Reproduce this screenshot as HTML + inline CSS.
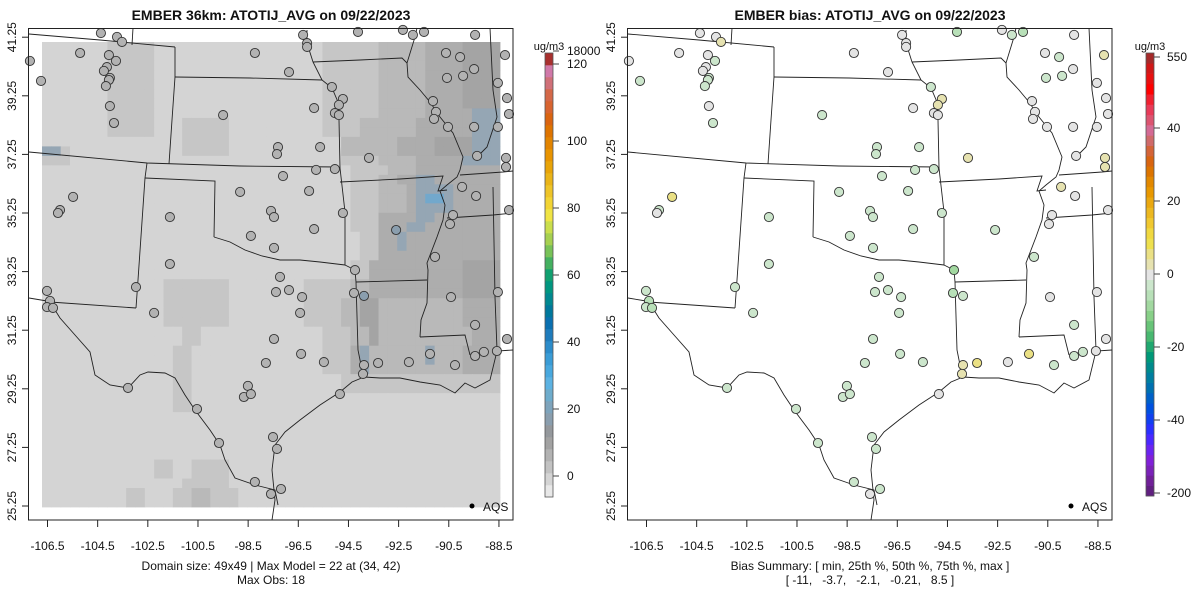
<!DOCTYPE html>
<html><head><meta charset="utf-8"><style>
html,body{margin:0;padding:0;background:#fff}
svg{display:block;font-family:"Liberation Sans",sans-serif}
</style></head><body>
<svg id="c" width="1200" height="600" viewBox="0 0 1200 600" xmlns="http://www.w3.org/2000/svg"></svg>
<script>
// ---------- data ----------
const lonTicks=[-106.5,-104.5,-102.5,-100.5,-98.5,-96.5,-94.5,-92.5,-90.5,-88.5];
const latTicks=[25.25,27.25,29.25,31.25,33.25,35.25,37.25,39.25,41.25];
const obsBarTicks=[0,20,40,60,80,100];
const biasBarTicks=[-40,-20,0,20,40];
const stationLon=[-104.37,-103.73,-103.53,-105.20,-104.05,-103.77,-104.13,-104.25,-104.01,-104.05,-104.17,-106.76,-107.20,-104.01,-103.85,-96.31,-96.15,-96.15,-94.12,-92.33,-91.93,-91.49,-89.45,-98.23,-96.87,-95.16,-94.72,-94.88,-95.04,-94.88,-95.87,-99.50,-97.31,-97.35,-95.63,-95.79,-95.04,-97.11,-98.82,-96.07,-97.59,-97.47,-98.39,-95.87,-97.47,-94.72,-94.24,-93.68,-90.61,-90.05,-89.49,-89.93,-90.57,-91.13,-91.01,-91.09,-90.53,-89.49,-89.37,-89.97,-89.41,-90.33,-90.45,-92.60,-91.05,-88.54,-88.26,-88.18,-88.10,-88.54,-88.22,-88.22,-88.10,-105.48,-106.00,-106.08,-101.62,-101.62,-97.23,-102.97,-106.52,-106.40,-106.52,-106.28,-102.25,-97.39,-96.87,-96.35,-96.43,-97.47,-96.39,-97.79,-95.48,-94.28,-93.88,-93.88,-93.92,-93.32,-92.09,-91.25,-90.41,-89.45,-88.54,-88.18,-89.45,-89.10,-88.58,-90.25,-103.29,-100.54,-99.66,-94.84,-98.51,-98.67,-98.39,-97.51,-97.35,-98.23,-97.59,-97.19];
const stationLat=[41.39,41.26,41.09,40.71,40.64,40.44,40.23,40.10,39.86,39.79,39.58,39.76,40.44,38.90,38.32,41.33,41.05,40.92,41.43,41.50,41.33,41.43,41.33,40.71,40.06,39.55,39.14,38.94,38.66,38.59,38.83,38.59,37.50,37.26,37.50,36.72,36.75,36.51,35.97,36.00,35.32,35.11,34.47,34.70,34.06,35.25,33.30,37.13,40.71,40.57,40.16,39.93,39.86,39.07,38.70,38.46,38.19,38.19,37.20,36.14,35.83,35.18,34.87,34.67,33.75,39.69,40.64,39.17,38.63,38.19,37.13,36.82,35.35,35.80,35.35,35.25,35.11,33.51,33.07,32.72,32.59,32.25,32.04,32.01,31.84,32.55,32.62,32.38,31.84,30.95,30.44,30.13,30.16,32.52,32.42,30.06,29.76,30.13,30.16,30.44,32.38,31.43,32.55,30.95,30.37,30.51,30.54,30.06,29.28,28.56,27.40,29.07,29.35,28.97,29.07,27.60,27.20,26.07,25.66,25.83];
const stationObs=[6,6,6,7,6,6,6,6,7,7,7,6,6,6,6,7,7,7,7,7,7,7,7,6,6,7,7,7,7,7,7,6,7,7,7,7,7,7,7,7,7,7,7,7,7,7,8,7,7,7,7,7,7,7,7,7,7,7,7,7,7,7,7,18,7,7,7,7,7,7,7,7,7,7,7,7,6,6,7,6,7,7,7,7,6,7,7,7,7,7,7,7,7,8,18,7,7,7,7,7,7,7,7,7,7,7,7,7,6,6,7,7,7,7,7,7,7,7,7,7];
const stationBias=[-0.5,-1,4,-1,-1,-4,-1,-1,-3,-3,-3,-3,-1,-1,-3,-1,-1,-1,-7,-1,-4,-5,-1,-1,-1,-3,4,3,-1,-1,-1,-4,-3,-3,-3,-3,-3,-4,-4,-3,-4,-4,-3,-4,-4,-4,-9,2,-1,-3,-1,-3,-4,-1,1,-1,-1,-1,-1,3,-1,-1,-1,-3,-4,-1,3,-1,-1,-1,3,3,-1,5,-2,-1,-3,-3,-3,-2,-3,-5,-4,-5,-2,-2,-3,-3,-4,-4,-3,-4,-4,-6,-3,3,4,5,-1,6,-1,-2,-1,-1,-2,-2,-1,-2,-3,-3,-4,-1,-3,-3,-3,-2,-2,-2,-1,-4];
// model grid, 49x49 levels (0 lightest .. 6 blue)
const gridRows=[
"0000000111110000000000000000001111112222233334444",
"0000000111110000000000000000001111112222233334444",
"0000000111110000000000000000001111112222233334444",
"0000000111110000000000000000001111112222233334444",
"0000000111110000000000000000001111112222233334444",
"0000000111110000000000000000001111112222233334444",
"0000000111110000000000000000001111112222233334444",
"0000000111110000000000000000001111112222233333555",
"0000000111110001111100000000001111222222333333555",
"0000000111110001111100000000001111222222333333555",
"0000000000000001111100000000000022222233334444555",
"5510000000000001111100000000000022222233334444555",
"1110000000000000000000000000000011112222333335555",
"0000000000000000000000000000000001111222333333333",
"0000000000000000000000000000000001112233553333333",
"0000000000000000000000000000000001112223555533333",
"0000000000000000000000000000000001112223566533333",
"0000000000000000000000000000000001112223555533333",
"0000000000000000000000000000000001113333553333333",
"0000000000000000000000000000000001113335533333333",
"0000000000000000000000000000000000113353333333333",
"0000000000000000000000000000000000113353333333333",
"0000000000000000000000000000000000113333333333333",
"0000000000000000000000000000000001133333333334444",
"0000000000000000000000000000000001133333333334444",
"0000000000000111111100000000111112233333333334444",
"0000000000000111111100000000111112233333333334444",
"0000000000000111111100000000111122442222222223333",
"0000000000000111111100000000111122442222222223333",
"0000000000000111111100000000111122442222222223333",
"0000000000000001100000000000001112242222222222333",
"0000000000000001100000000000001112242222222222333",
"0000000000000011000000000000001113522222252223333",
"0000000000000011000000000000001113522222252223333",
"0000000000000011000000000000001113522222222223333",
"0000000000000011000000000000000011111111111111111",
"0000000000000011000000000000000011111111111111111",
"0000000000000011000000000000000000000000000000000",
"0000000000000011000000000000000000000000000000000",
"0000000000000000000000000000000000000000000000000",
"0000000000000000000000000000000000000000000000000",
"0000000000000000000000000000000000000000000000000",
"0000000000000000000000000000000000000000000000000",
"0000000000000000000000000000000000000000000000000",
"0000000000001100111100000000000000000000000000000",
"0000000000001100111100000000000000000000000000000",
"0000000000000001111100000000000000000000000000000",
"0000000001100011221110000000000000000000000000000",
"0000000001100011221110000000000000000000000000000"];
const gridColors=["#d4d4d4","#c6c6c6","#b9b9b9","#adadad","#a4a4a4","#95a6b4","#72a8cc"];
const obsBarColors=["#e8e8e8","#d4d4d4","#c2c2c2","#b2b2b2","#a2a2a2","#94989c","#8a9eae","#7ea4bc","#6eaccc","#5cb2e2","#48a8de","#3a9cd6","#2c8cca","#1f7cbc","#0a70b0","#00789c","#008890","#009680","#10a070","#44b060","#78c258","#a6d050","#cade4c","#f0e444","#f2d434","#eec428","#eab418","#e8a408","#e89400","#e28400","#de7400","#da6410","#d86430","#d46848","#d07078","#d078a8","#a8302e"];
const biasBarColors=["#602080","#702098","#7a22b8","#8020d8","#6a24f0","#4a28ff","#2a30ff","#1040f0","#0050e0","#0060c8","#0070b0","#007ea0","#008a8c","#009878","#20a870","#48b870","#68c478","#88d088","#a2d8a0","#b8e0b8","#cce6cc","#e4e4e4","#e6e2b0","#eae084","#eee04e","#f0d840","#f0c830","#ecb820","#eaa810","#e89800","#e28800","#dc7400","#d86410","#d46438","#d06a6a","#d46a94","#dc5470","#e83a58","#f02030","#ff0000","#e81010","#d01818","#a52a2a"];

// ---------- helpers ----------
const svg=document.getElementById('c');
const NS="http://www.w3.org/2000/svg";
function mk(tag,attrs,parent){const e=document.createElementNS(NS,tag);for(const k in attrs)e.setAttribute(k,attrs[k]);(parent||svg).appendChild(e);return e;}
function xScale(lon,off){return 47.5+(lon+106.5)*25.08+off;}
function yScale(lat){return 506-(lat-25.25)*29.3;}
function obsColor(v){const y=476-v*3.35;let i=Math.floor((497-y)/(444/obsBarColors.length));i=Math.max(0,Math.min(obsBarColors.length-1,i));return obsBarColors[i];}
function biasColor(v){const y=274-v*3.65;let i=Math.floor((496-y)/(443/biasBarColors.length));i=Math.max(0,Math.min(biasBarColors.length-1,i));return biasBarColors[i];}

const basemap=[
[[29,34],[100,40],[175,47]],[[133,28],[132,45]],[[175,47],[175,77],[172,120],[169,164]],
[[175,77],[250,78],[322,80]],
[[307,30],[307,43],[313,62],[322,80],[332,88],[338,102],[339,120],[340,168]],
[[313,62],[360,60],[402,58],[407,63]],
[[417,28],[415,37],[407,63],[408,77],[420,90],[430,102],[440,117],[453,133],[463,157],[460,170],[457,177],[447,185],[440,191],[445,205],[443,220],[437,237],[427,263],[428,270],[427,303],[421,320],[420,337]],
[[29,152],[147,163],[240,166],[338,167],[340,168]],
[[147,163],[145,178],[138,280],[136,308]],[[145,178],[215,181],[214,237]],
[[214,237],[230,242],[245,250],[262,256],[280,260],[300,260],[320,262],[345,265]],
[[340,168],[345,212],[345,265],[355,270],[356,282],[358,350],[362,370],[364,377]],
[[340,182],[400,179],[443,176],[438,191],[447,190]],
[[356,282],[427,280]],[[420,337],[465,335],[470,355]],
[[447,218],[493,215],[513,213]],[[493,187],[495,297],[497,350]],[[460,175],[503,172],[513,171]],
[[490,28],[493,90],[497,117],[487,147],[477,157]],
[[50,302],[136,308]],[[29,298],[47,301]],
[[364,377],[352,382],[340,392],[320,405],[300,420],[285,432],[275,445],[272,470],[275,500],[272,520]],
[[364,377],[380,378],[400,378],[410,380],[420,382],[440,385],[455,393],[465,383],[475,388],[490,380],[497,351],[513,350]],
[[50,302],[60,318],[75,335],[90,352],[95,375],[110,385],[128,388],[140,375],[148,372],[165,373],[175,378],[185,395],[195,410],[210,430],[220,445],[225,460],[235,478],[255,485],[275,490],[278,505]]
];

function drawPanel(off,isBias){
  const g=mk('g',{});
  
  
  if(!isBias){
    const gg=mk('g',{},g);
    
    
    const cw=(500-42)/49,ch=(507-42)/49;
    gridRows.forEach((row,r)=>{for(let c=0;c<49;c++){const lv=+(row[c]||0);
      const cell=mk('rect',{x:(42+c*cw).toFixed(2),y:(42+r*ch).toFixed(2),width:(cw+0.4).toFixed(2),height:(ch+0.4).toFixed(2),fill:gridColors[lv]},gg);
      
      }});
  }
  const bm=mk('g',{fill:'none',stroke:'#222','stroke-width':0.9},g);
  
  
  basemap.forEach(l=>{mk('polyline',{points:l.map(p=>(p[0]+off)+','+p[1]).join(' ')},bm);});
  const pts=mk('g',{},g);
  
  
  for(let i=0;i<stationLon.length;i++){
    const c=mk('circle',{cx:xScale(stationLon[i],off).toFixed(1),cy:yScale(stationLat[i]).toFixed(1),r:4.6,fill:isBias?biasColor(stationBias[i]):obsColor(stationObs[i]),stroke:'#333','stroke-width':0.9},pts);
    
    
  }
  const fr=mk('rect',{x:28.5+off,y:28.5,width:484.5,height:491.5,fill:'none',stroke:'#222','stroke-width':1},g);
  
  
  lonTicks.forEach(t=>{const x=xScale(t,off);
    mk('line',{x1:x,y1:520,x2:x,y2:527,stroke:'#222'},g);
    const tx=mk('text',{x:x,y:550,'text-anchor':'middle','font-size':12,fill:'#111'},g);tx.textContent=t.toFixed(1);
    
    });
  latTicks.forEach(t=>{const y=yScale(t);
    mk('line',{x1:28.5+off,y1:y,x2:22+off,y2:y,stroke:'#222'},g);
    const tx=mk('text',{x:0,y:0,'text-anchor':'middle','font-size':12,fill:'#111',transform:`translate(${16+off},${y}) rotate(-90)`},g);tx.textContent=t.toFixed(2);
    
    });
  mk('circle',{cx:472+off,cy:506,r:2.5,fill:'#000'},g);
  const lt=mk('text',{x:483+off,y:511,'font-size':12,fill:'#111'},g);lt.textContent='AQS';
  
  
}
drawPanel(0,false);
drawPanel(599,true);

function colorbar(x,top,bot,colors,name){
  const g=mk('g',{});
  
  
  const h=(bot-top)/colors.length;
  colors.forEach((c,i)=>{mk('rect',{x:x,y:(bot-(i+1)*h).toFixed(2),width:8,height:(h+0.3).toFixed(2),fill:c},g);});
  mk('rect',{x:x,y:top,width:8,height:bot-top,fill:'none',stroke:'#555','stroke-width':0.8},g);
  return g;
}
const cb1=colorbar(545,53,497,obsBarColors,'model-colorbar');
const cb1Ticks=obsBarTicks.map(v=>[v,476-v*3.35,String(v)]).concat([[120,64,'120'],[18000,51,'18000']]);
cb1Ticks.forEach(t=>{mk('line',{x1:553,y1:t[1],x2:559,y2:t[1],stroke:'#444'},cb1);
  const tx=mk('text',{x:567,y:t[1]+4,'font-size':12,fill:'#111'},cb1);tx.textContent=t[2];});
const u1=mk('text',{x:549,y:50,'text-anchor':'middle','font-size':11,fill:'#111'});u1.textContent='ug/m3';



const cb2=colorbar(1146,53,496,biasBarColors,'bias-colorbar');
const cb2Ticks=biasBarTicks.map(v=>[v,274-v*3.65,String(v)]).concat([[550,57,'550'],[-200,493,'-200']]);
cb2Ticks.forEach(t=>{mk('line',{x1:1154,y1:t[1],x2:1160,y2:t[1],stroke:'#444'},cb2);
  const tx=mk('text',{x:1167,y:t[1]+4,'font-size':12,fill:'#111'},cb2);tx.textContent=t[2];});
const u2=mk('text',{x:1150,y:50,'text-anchor':'middle','font-size':11,fill:'#111'});u2.textContent='ug/m3';



function txt(x,y,s,size,w,name){const t=mk('text',{x:x,y:y,'text-anchor':'middle','font-size':size,'font-weight':w,fill:'#111',style:'white-space:pre'});t.textContent=s;
  
  }
txt(271,20,'EMBER 36km: ATOTIJ_AVG on 09/22/2023',14,'bold','left-title');
txt(870,20,'EMBER bias: ATOTIJ_AVG on 09/22/2023',14,'bold','right-title');
txt(271,570,'Domain size: 49x49 | Max Model = 22 at (34, 42)',12,'normal','left-subtitle');
txt(271,584,'Max Obs: 18',12,'normal','left-subtitle-2');
txt(870,570,'Bias Summary: [ min, 25th %, 50th %, 75th %, max ]',12,'normal','right-subtitle');
txt(870,584,'[ -11,   -3.7,   -2.1,   -0.21,   8.5 ]',12,'normal','right-subtitle-2');
</script>
</body></html>
